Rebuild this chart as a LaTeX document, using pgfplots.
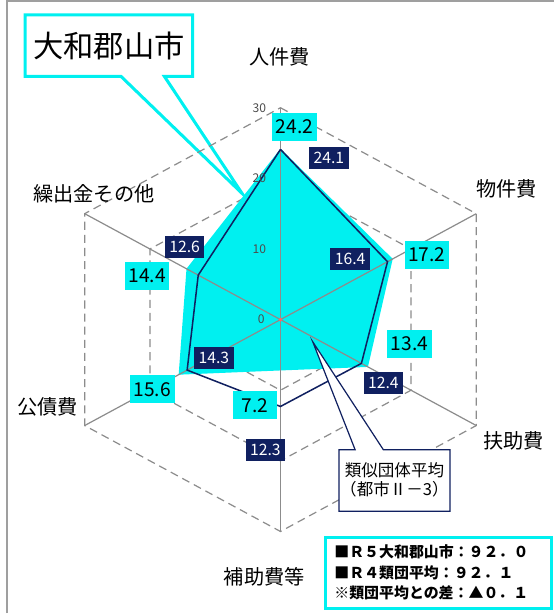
\documentclass[border=0pt]{standalone}
\usepackage{fontspec}
\setmainfont{Noto Sans CJK JP}
\usepackage{pgfplots}
\pgfplotsset{compat=1.18}
\definecolor{fillcyan}{RGB}{0,240,240}
\definecolor{navy}{RGB}{16,32,96}
\definecolor{gridgray}{RGB}{140,140,140}

% R5 Yamatokoriyama / similar-group average, order: 人件費, 物件費, 扶助費, 補助費等, 公債費, 繰出金その他
\pgfplotstableread{
ang r
90 24.2
30 17.2
-30 13.4
-90 7.2
-150 15.6
150 14.4
90 24.2
}\cityR
\pgfplotstableread{
ang r
90 24.1
30 16.4
-30 12.4
-90 12.3
-150 14.3
150 12.6
90 24.1
}\avgR

\begin{document}
\begin{tikzpicture}
\begin{axis}[
  x=3.735pt, y=3.5pt,
  xmin=-37.2155, xmax=36.2718, ymin=-41.5714, ymax=46.1429,
  hide axis, clip=false,
]
\coordinate (TL) at (rel axis cs:0,1);
\end{axis}

% pixel frame: 1px = 0.5pt, origin top-left
\begin{scope}[shift={(TL)}, x=0.5pt, y=-0.5pt]
  \draw[gray!75, line width=0.8pt] (7,614) -- (7,7) -- (549,7);
  % callout for the city
  \draw[fillcyan, line width=1.5pt, fill=white, line join=miter]
    (25,21) -- (191,21) -- (191,82) -- (163,82) -- (240,198) -- (120,82) -- (25,82) -- cycle;
  \node[font=\fontsize{15}{17}\selectfont] at (108,52) {大和郡山市};
\end{scope}

\begin{axis}[
  x=3.735pt, y=3.5pt,
  xmin=-37.2155, xmax=36.2718, ymin=-41.5714, ymax=46.1429,
  hide axis, clip=false,
]
% hexagon rings
\foreach \rr in {10,20,30} {
  \addplot[gridgray, line width=0.6pt, dash pattern=on 4pt off 2.5pt, data cs=polar]
    coordinates {(90,\rr) (30,\rr) (-30,\rr) (-90,\rr) (-150,\rr) (150,\rr) (90,\rr)};
}
\addplot[fill=fillcyan, draw=none, data cs=polar] table[x=ang, y=r] {\cityR};
% spokes
\addplot[gridgray, line width=0.6pt, data cs=polar] coordinates {(90,30) (-90,30)};
\addplot[gridgray, line width=0.6pt, data cs=polar] coordinates {(30,30) (-150,30)};
\addplot[gridgray, line width=0.6pt, data cs=polar] coordinates {(150,30) (-30,30)};

\addplot[navy, line width=0.75pt, data cs=polar] table[x=ang, y=r] {\avgR};
\addplot[only marks, mark=*, mark size=0.7pt, red!60] coordinates {(0,0)};
\end{axis}

\begin{scope}[shift={(TL)}, x=0.5pt, y=-0.5pt,
  cyanlab/.style={fill=fillcyan, inner sep=0pt, minimum width=22pt, minimum height=14pt, font=\fontsize{9.5}{10}\selectfont},
  navylab/.style={fill=navy, text=white, inner sep=0pt, minimum width=19.5pt, minimum height=11pt, font=\fontsize{7.8}{9}\selectfont},
  cat/.style={font=\fontsize{10}{12}\selectfont},
  tick/.style={font=\fontsize{6}{7}\selectfont, text=black!70}]
  % scale labels
  \node[tick] at (257,113) {30};
  \node[tick] at (257,183) {20};
  \node[tick] at (257,253) {10};
  \node[tick] at (259,323) {0};
  % category labels
  \node[cat] at (277,63) {人件費};
  \node[cat] at (502,193) {物件費};
  \node[cat] at (509,443) {扶助費};
  \node[cat] at (262,578) {補助費等};
  \node[cat] at (47,410) {公債費};
  \node[cat] at (93,198) {繰出金その他};
  % value labels, city
  \node[cyanlab] at (292,132) {24.2};
  \node[cyanlab] at (423,259) {17.2};
  \node[cyanlab] at (406,347) {13.4};
  \node[cyanlab] at (253,408) {7.2};
  \node[cyanlab] at (151,392) {15.6};
  \node[cyanlab] at (146,280) {14.4};
  % value labels, average
  \node[navylab] at (326,163) {24.1};
  \node[navylab] at (347,263) {16.4};
  \node[navylab] at (380,386) {12.4};
  \node[navylab] at (263,452) {12.3};
  \node[navylab] at (212,361) {14.3};
  \node[navylab] at (183,251) {12.6};
  % callout for the average
  \draw[navy, line width=0.6pt, fill=white, line join=miter]
    (336,452) -- (352,452) -- (310,345) -- (380,452) -- (446,452) -- (446,513) -- (336,513) -- cycle;
  \node[font=\fontsize{8.2}{9}\selectfont] at (391,472) {類似団体平均};
  \node[font=\fontsize{8.2}{9}\selectfont] at (391,491) {（都市Ⅱ－3）};
  % summary box
  \draw[fillcyan, line width=1.5pt, fill=white] (323,539) rectangle (547,609);
  \begin{scope}[every node/.style={anchor=west, inner sep=0pt, font=\fontsize{7.4}{8}\selectfont\bfseries}]
    \node at (331,553) {■Ｒ５大和郡山市：９２．０};
    \node at (331,574) {■Ｒ４類団平均：９２．１};
    \node at (331,594) {※類団平均との差：▲０．１};
  \end{scope}
\end{scope}
\end{tikzpicture}
\end{document}
